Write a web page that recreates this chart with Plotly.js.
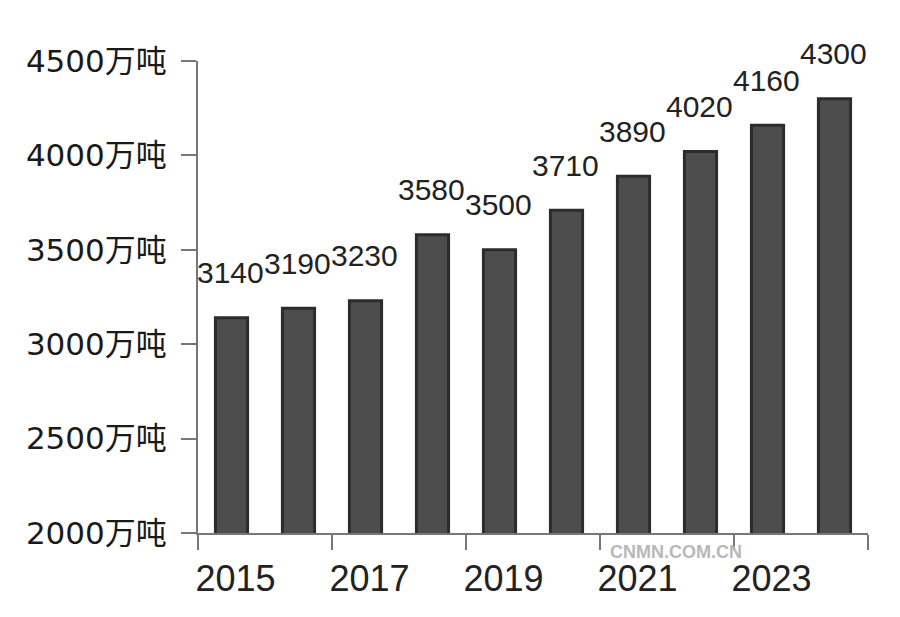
<!DOCTYPE html>
<html>
<head>
<meta charset="utf-8">
<script src="https://cdn.plot.ly/plotly-3.0.1.min.js"></script>
<style>html,body{margin:0;padding:0;background:#fff;}#chart{width:900px;height:617px;}</style>
</head>
<body>
<div id="chart"></div>
<script>
// Data
const years = [2015, 2016, 2017, 2018, 2019, 2020, 2021, 2022, 2023, 2024];
const output = [3140, 3190, 3230, 3580, 3500, 3710, 3890, 4020, 4160, 4300];
const xLabelYears = [2015, 2017, 2019, 2021, 2023];
const yTicks = [2000, 2500, 3000, 3500, 4000, 4500];
const unit = '万吨';
const watermark = 'CNMN.COM.CN';

const trace = {
  type: 'bar',
  x: years,
  y: output,
  marker: {color: '#4d4d4d', line: {color: '#2c2c2c', width: 3}},
  hoverinfo: 'x+y',
  showlegend: false
};

const annotations = years.map((yr, i) => ({
  x: yr, y: output[i], xref: 'x', yref: 'y',
  text: String(output[i]), showarrow: false,
  xanchor: 'center', yanchor: 'middle', yshift: 45, xshift: -1,
  font: {family: 'Liberation Sans, Arial, sans-serif', size: 30, color: '#222'}
}));
annotations.push({
  xref: 'paper', yref: 'paper', x: 0.713, y: -0.04,
  xanchor: 'center', yanchor: 'middle',
  text: '<b>' + watermark + '</b>', showarrow: false,
  font: {family: 'Liberation Sans, Arial, sans-serif', size: 18, color: '#b8b8b8'}
});

const layout = {
  width: 900, height: 617,
  margin: {l: 198, r: 32, t: 61, b: 84},
  paper_bgcolor: '#fff', plot_bgcolor: '#fff',
  bargap: 0.52,
  showlegend: false,
  xaxis: {
    range: [years[0] - 0.5, years[years.length - 1] + 0.5],
    tickmode: 'array', tickvals: xLabelYears, ticktext: xLabelYears.map(String),
    ticks: '', showgrid: false, zeroline: false,
    showline: true, linecolor: '#777', linewidth: 2,
    ticklabelshift: 4, ticklabelstandoff: 13,
    tickfont: {family: 'Liberation Sans, Arial, sans-serif', size: 36, color: '#222'},
    minor: {tickmode: 'linear', tick0: years[0] - 0.5, dtick: 2, ticks: 'outside',
            ticklen: 15, tickwidth: 2, tickcolor: '#777', showgrid: false}
  },
  yaxis: {
    range: [yTicks[0], yTicks[yTicks.length - 1]],
    tickmode: 'array', tickvals: yTicks, ticktext: yTicks.map(v => v + unit),
    ticks: 'outside', ticklen: 15, tickwidth: 2, tickcolor: '#777',
    showline: true, linecolor: '#777', linewidth: 2,
    showgrid: false, zeroline: false,
    ticklabelstandoff: 8,
    tickfont: {family: 'DejaVu Sans, Noto Sans CJK SC, sans-serif', size: 31, color: '#1a1a1a'}
  },
  annotations: annotations
};

Plotly.newPlot('chart', [trace], layout, {displayModeBar: false, staticPlot: true});
</script>
</body>
</html>
